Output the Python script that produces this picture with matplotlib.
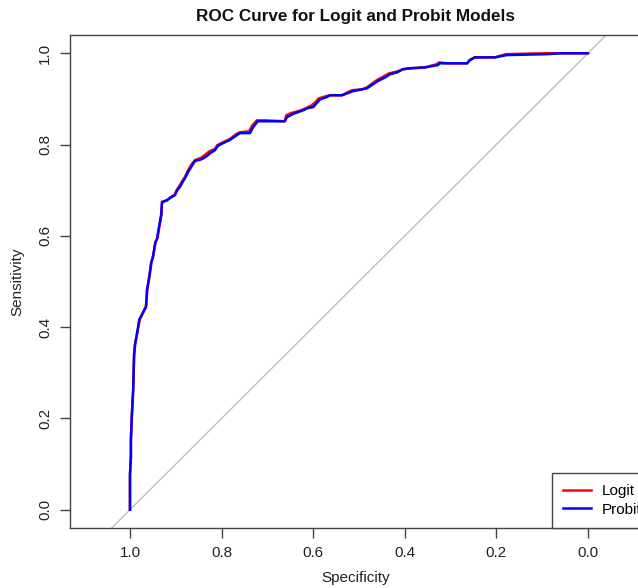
import matplotlib
matplotlib.use("Agg")
import matplotlib.pyplot as plt

plt.rcParams['font.family'] = ['Liberation Sans', 'DejaVu Sans']

# Probit ROC vertices (specificity, sensitivity)
probit_spec = [1.000, 1.000, 0.998, 0.998, 0.996, 0.993, 0.991, 0.989, 0.983, 0.980,
               0.971, 0.965, 0.963, 0.958, 0.954, 0.950, 0.945, 0.941, 0.937, 0.932,
               0.930, 0.919, 0.913, 0.902, 0.897, 0.891, 0.884, 0.880, 0.873, 0.865,
               0.858, 0.843, 0.832, 0.825, 0.814, 0.808, 0.797, 0.782, 0.766, 0.760,
               0.738, 0.731, 0.721, 0.705, 0.662, 0.657, 0.644, 0.633, 0.622, 0.611,
               0.600, 0.592, 0.585, 0.570, 0.563, 0.537, 0.526, 0.513, 0.493, 0.483,
               0.469, 0.459, 0.443, 0.432, 0.417, 0.404, 0.389, 0.356, 0.328, 0.323,
               0.308, 0.264, 0.258, 0.247, 0.203, 0.177, 0.090, 0.057, 0.000]
probit_sens = [0.000, 0.077, 0.116, 0.153, 0.204, 0.263, 0.339, 0.361, 0.394, 0.416,
               0.433, 0.444, 0.481, 0.510, 0.540, 0.554, 0.584, 0.593, 0.617, 0.646,
               0.674, 0.678, 0.683, 0.689, 0.700, 0.707, 0.720, 0.726, 0.740, 0.753,
               0.764, 0.768, 0.775, 0.781, 0.788, 0.797, 0.803, 0.810, 0.821, 0.825,
               0.825, 0.838, 0.851, 0.851, 0.851, 0.860, 0.867, 0.871, 0.875, 0.880,
               0.882, 0.891, 0.899, 0.904, 0.908, 0.908, 0.912, 0.917, 0.921, 0.923,
               0.932, 0.939, 0.947, 0.954, 0.958, 0.965, 0.967, 0.969, 0.974, 0.978,
               0.978, 0.978, 0.985, 0.991, 0.991, 0.996, 0.998, 1.000, 1.000]

# Logit ROC vertices (specificity, sensitivity) - nearly identical
logit_spec = [1.000, 1.000, 0.998, 0.998, 0.996, 0.993, 0.991, 0.989, 0.983, 0.978,
              0.971, 0.965, 0.962, 0.957, 0.953, 0.949, 0.944, 0.940, 0.936, 0.931,
              0.930, 0.919, 0.913, 0.902, 0.897, 0.891, 0.884, 0.880, 0.873, 0.866,
              0.858, 0.845, 0.834, 0.827, 0.815, 0.809, 0.797, 0.782, 0.768, 0.760,
              0.740, 0.733, 0.723, 0.705, 0.662, 0.659, 0.648, 0.633, 0.622, 0.611,
              0.603, 0.595, 0.588, 0.572, 0.563, 0.537, 0.526, 0.515, 0.493, 0.483,
              0.471, 0.461, 0.445, 0.434, 0.417, 0.404, 0.389, 0.356, 0.330, 0.325,
              0.308, 0.264, 0.258, 0.247, 0.203, 0.179, 0.092, 0.057, 0.000]
logit_sens = [0.000, 0.077, 0.118, 0.153, 0.206, 0.263, 0.341, 0.363, 0.396, 0.418,
              0.433, 0.446, 0.483, 0.513, 0.543, 0.556, 0.588, 0.595, 0.620, 0.648,
              0.674, 0.678, 0.683, 0.691, 0.702, 0.711, 0.723, 0.729, 0.744, 0.756,
              0.766, 0.771, 0.779, 0.785, 0.790, 0.799, 0.805, 0.812, 0.823, 0.827,
              0.829, 0.842, 0.853, 0.853, 0.851, 0.864, 0.869, 0.873, 0.877, 0.882,
              0.886, 0.893, 0.901, 0.906, 0.908, 0.908, 0.914, 0.919, 0.921, 0.925,
              0.934, 0.941, 0.950, 0.956, 0.960, 0.965, 0.967, 0.969, 0.976, 0.980,
              0.978, 0.978, 0.985, 0.991, 0.991, 0.998, 1.000, 1.000, 1.000]

x_ticks = [1.0, 0.8, 0.6, 0.4, 0.2, 0.0]
y_ticks = [0.0, 0.2, 0.4, 0.6, 0.8, 1.0]

fig = plt.figure(figsize=(6.38, 5.88), dpi=100)
ax = fig.add_axes([70 / 638, 1 - 528 / 588, 571 / 638, 493 / 588])

ax.axline((1, 0), (0, 1), color='#BEBEBE', lw=1.0, zorder=1)
l1, = ax.plot(logit_spec, logit_sens, color='#FF0000', lw=1.8, label='Logit', zorder=2)
l2, = ax.plot(probit_spec, probit_sens, color='#0000FF', lw=1.8, label='Probit', zorder=3)

ax.set_xlim(1.131, -0.116)
ax.set_ylim(-0.04, 1.04)
ax.set_xticks(x_ticks)
ax.set_xticklabels([f"{v:.1f}" for v in x_ticks])
ax.set_yticks(y_ticks)
ax.set_yticklabels([f"{v:.1f}" for v in y_ticks], rotation=90, va='center')
ax.tick_params(axis='both', direction='out', length=7, width=1, color='#444444',
               labelsize=11, labelcolor='#222222', pad=6)
for s in ax.spines.values():
    s.set_color('#444444')
    s.set_linewidth(1.0)

ax.set_xlabel('Specificity', fontsize=11, color='#222222', labelpad=8)
ax.set_ylabel('Sensitivity', fontsize=11, color='#222222', labelpad=10)
ax.set_title('ROC Curve for Logit and Probit Models', fontsize=12.3, fontweight='bold',
             color='#111111', pad=10)

leg = ax.legend(handles=[l1, l2], loc='lower left',
                bbox_to_anchor=((588 - 552) / 458, -0.04), bbox_transform=ax.transData,
                fancybox=False, framealpha=1, edgecolor='#444444', fontsize=11,
                handlelength=1.8, handletextpad=0.7, borderpad=0.75, borderaxespad=0,
                labelspacing=0.3)
leg.get_frame().set_linewidth(1.0)

fig.savefig('out.png', dpi=100)
